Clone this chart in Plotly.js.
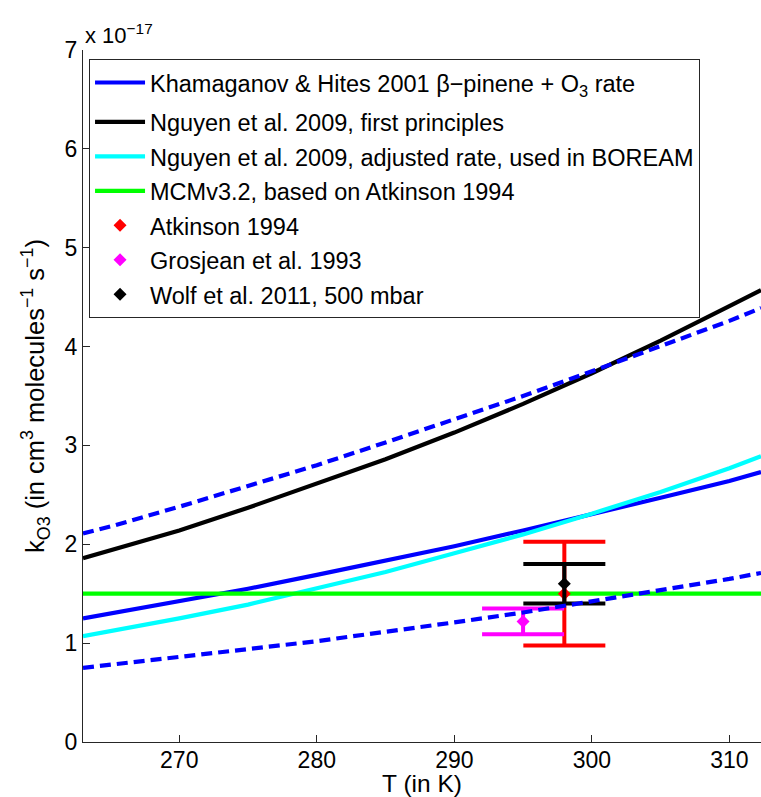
<!DOCTYPE html>
<html>
<head>
<meta charset="utf-8">
<script src="https://cdn.plot.ly/plotly-3.0.1.min.js"></script>
<style>html,body{margin:0;padding:0;background:#fff;overflow:hidden}</style>
</head>
<body>
<div id="chart" style="width:761px;height:797px"></div>
<script>
var temps = [263, 265, 270, 275, 280, 285, 290, 295, 300, 305, 310, 312.3];
// Rates in units of 1e-17 cm3 molecule-1 s-1
var khamaganov      = [1.25, 1.30, 1.42, 1.55, 1.69, 1.83, 1.98, 2.14, 2.30, 2.47, 2.64, 2.73];
var khamaganovHigh  = [2.11, 2.18, 2.38, 2.59, 2.80, 3.03, 3.26, 3.50, 3.75, 4.00, 4.26, 4.39];
var khamaganovLow   = [0.75, 0.78, 0.86, 0.94, 1.02, 1.11, 1.21, 1.31, 1.42, 1.53, 1.65, 1.71];
var nguyenFirst     = [1.86, 1.94, 2.14, 2.37, 2.61, 2.86, 3.13, 3.42, 3.73, 4.06, 4.41, 4.57];
var nguyenAdjusted  = [1.07, 1.12, 1.25, 1.39, 1.55, 1.72, 1.91, 2.10, 2.31, 2.53, 2.77, 2.89];
var mcmTemps        = [263, 312.3];
var mcmRate         = [1.5, 1.5];

// Measurements
var atkinsonT = [298], atkinsonK = [1.5],  atkinsonErr = [0.525];
var grosjeanT = [295], grosjeanK = [1.22], grosjeanErr = [0.13];
var wolfT     = [298], wolfK     = [1.60], wolfErr     = [0.20];

var xTicks = [270, 280, 290, 300, 310];
var yTicks = [0, 1, 2, 3, 4, 5, 6, 7];

var legendNames = [
  'Khamaganov &amp; Hites 2001 \u03b2\u2212pinene + O<sub>3</sub> rate',
  'Nguyen et al. 2009, first principles',
  'Nguyen et al. 2009, adjusted rate, used in BOREAM',
  'MCMv3.2, based on Atkinson 1994',
  'Atkinson 1994',
  'Grosjean et al. 1993',
  'Wolf et al. 2011, 500 mbar'
];

var FONT = 'Liberation Sans, Arial, Helvetica, sans-serif';
var LW = 4.2;
function lg(s) { return '<span style="font-size:23.5px">' + s + '</span>'; }

var traces = [
  {x: temps, y: khamaganov, mode: 'lines', line: {color: '#0000ff', width: LW},
   name: lg(legendNames[0]), legendgroup: 'a', legendrank: 1},
  {x: temps, y: nguyenFirst, mode: 'lines', line: {color: '#000000', width: LW},
   name: lg(legendNames[1]), legendgroup: 'b', legendrank: 2},
  {x: temps, y: nguyenAdjusted, mode: 'lines', line: {color: '#00ffff', width: LW},
   name: lg(legendNames[2]), legendgroup: 'b', legendrank: 3},
  {x: mcmTemps, y: mcmRate, mode: 'lines', line: {color: '#00ff00', width: LW},
   name: lg(legendNames[3]), legendgroup: 'b', legendrank: 4},
  {x: atkinsonT, y: atkinsonK, mode: 'markers', name: lg(legendNames[4]), legendgroup: 'b', legendrank: 5,
   marker: {symbol: 'diamond', size: 10, color: '#ff0000'},
   error_y: {type: 'data', array: atkinsonErr, visible: true, color: '#ff0000', thickness: 4, width: 41}},
  {x: grosjeanT, y: grosjeanK, mode: 'markers', name: lg(legendNames[5]), legendgroup: 'b', legendrank: 6,
   marker: {symbol: 'diamond', size: 10, color: '#ff00ff'},
   error_y: {type: 'data', array: grosjeanErr, visible: true, color: '#ff00ff', thickness: 4, width: 41}},
  {x: wolfT, y: wolfK, mode: 'markers', name: lg(legendNames[6]), legendgroup: 'b', legendrank: 7,
   marker: {symbol: 'diamond', size: 10, color: '#000000'},
   error_y: {type: 'data', array: wolfErr, visible: true, color: '#000000', thickness: 4, width: 41}},
  {x: temps, y: khamaganovHigh, mode: 'lines', line: {color: '#0000ff', width: LW, dash: '11px,6px'},
   showlegend: false},
  {x: temps, y: khamaganovLow, mode: 'lines', line: {color: '#0000ff', width: LW, dash: '11px,6px'},
   showlegend: false}
];

var axisCommon = {
  showgrid: false, zeroline: false, showline: true, linecolor: '#262626', linewidth: 1,
  ticks: 'inside', ticklen: 7, tickwidth: 1, tickcolor: '#262626',
  tickfont: {family: FONT, size: 23, color: '#000'}, automargin: false
};

var layout = {
  width: 761, height: 797,
  margin: {l: 83, r: 0, t: 50, b: 55, pad: 0},
  paper_bgcolor: '#ffffff', plot_bgcolor: '#ffffff',
  font: {family: FONT, color: '#000'},
  showlegend: true,
  xaxis: Object.assign({}, axisCommon, {
    range: [263, 312.3], tickmode: 'array', tickvals: xTicks, ticklabelstandoff: -3,
    title: {text: 'T (in K)', font: {family: FONT, size: 24.5, color: '#000'}, standoff: 4}
  }),
  yaxis: Object.assign({}, axisCommon, {
    range: [0, 7], tickmode: 'array', tickvals: yTicks,
    title: {text: 'k<sub>O3</sub> (in cm<sup>3</sup> molecules<sup>\u22121</sup> s<sup>\u22121</sup>)',
            font: {family: FONT, size: 25.5, color: '#000'}, standoff: 12}
  }),
  legend: {
    x: 0.0089, y: 0.9866, xanchor: 'left', yanchor: 'top',
    bgcolor: '#ffffff', bordercolor: '#262626', borderwidth: 1,
    font: {family: FONT, size: 24.2, color: '#000'},
    traceorder: 'grouped', tracegroupgap: 5, itemwidth: 50
  },
  annotations: [{
    xref: 'paper', yref: 'paper', x: 0, y: 1, xanchor: 'left', yanchor: 'bottom', yshift: 0,
    text: 'x 10<sup>\u221217</sup>', showarrow: false, font: {family: FONT, size: 22, color: '#000'}
  }]
};

Plotly.newPlot('chart', traces, layout, {displayModeBar: false, staticPlot: true});
</script>
</body>
</html>
